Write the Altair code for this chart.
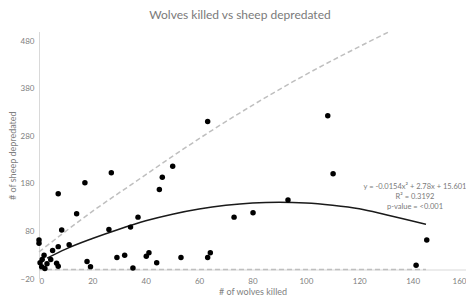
import altair as alt
import pandas as pd

# Observed points (wolves killed, sheep depredated)
wolves = [0, 0, 0.4, 1, 1.2, 1.9, 2.2, 3.0, 4.4, 5.1, 6.6, 7.2, 7.2, 7.2, 8.5, 11.3, 14.1,
          17.2, 18, 19.3, 26.2, 27.1, 29.2, 32.1, 34.3, 35.2, 37.1, 40.2, 41.2, 44.1,
          45.1, 46.2, 50.1, 53.2, 63.2, 64.2, 63.2, 73.1, 80.2, 93.3, 108.2, 110.2,
          141.3, 145.3]
sheep = [62, 55, 14, 6, 21, 30, 2, 12, 21, 40, 13, 7, 48, 159, 83, 52, 117,
         182, 17, 6, 84, 203, 25, 30, 89, 3, 110, 28, 35, 14,
         168, 194, 217, 25, 25, 35, 311, 110, 119, 146, 323, 201,
         9, 62]

# Polynomial trend (as drawn)
trend_x = [3, 10, 20, 30, 40, 50, 60, 70, 80, 90, 100, 110, 120, 130, 145]
trend_y = [23.8, 42.9, 65.0, 84.6, 102.2, 116.1, 127.0, 134.7, 139.5, 141.0, 139.6, 134.8, 127.4, 115.0, 94.9]

# Dashed upper reference curve (as drawn)
ref_x = [0, 20, 35, 65, 95, 131]
ref_y = [37, 122, 180, 293, 394, 499]

# Dashed baseline
base_x = [0, 145]
base_y = [0, 0]

x_ticks = [0, 20, 40, 60, 80, 100, 120, 140, 160]
y_ticks = [-20, 80, 180, 280, 380, 480]

annotation = "y = -0.0154x² + 2.78x + 15.601\nR² = 0.3192\np-value = <0.001"

FONT = "Lato"
GRAY = "#808080"

pts = pd.DataFrame({"w": wolves, "s": sheep})
trend = pd.DataFrame({"w": trend_x, "s": trend_y})
ref = pd.DataFrame({"w": ref_x, "s": ref_y})
base = pd.DataFrame({"w": base_x, "s": base_y})
ann = pd.DataFrame({"t": [annotation]})

xs = alt.Scale(domain=[0, 160], nice=False)
ys = alt.Scale(domain=[-20, 500], nice=False)

x_axis = alt.Axis(values=x_ticks, title="# of wolves killed", grid=False, ticks=False,
                  domainColor="#d9d9d9", offset=-9.5, labelPadding=8, titlePadding=2,
                  labelColor=GRAY, titleColor=GRAY, labelFontSize=8, titleFontSize=9,
                  titleFontWeight="normal", labelFont=FONT, titleFont=FONT)
y_axis = alt.Axis(values=y_ticks, title="# of sheep depredated", grid=False, ticks=False,
                  domainColor="#d9d9d9", labelPadding=5, titlePadding=3,
                  labelColor=GRAY, titleColor=GRAY, labelFontSize=8, titleFontSize=9,
                  titleFontWeight="normal", labelFont=FONT, titleFont=FONT)

ref_line = alt.Chart(ref).mark_line(color="#bfbfbf", strokeDash=[5, 3], strokeWidth=1.5,
                                    interpolate="monotone").encode(
    x=alt.X("w:Q", scale=xs, axis=x_axis),
    y=alt.Y("s:Q", scale=ys, axis=y_axis),
)
base_line = alt.Chart(base).mark_line(color="#bfbfbf", strokeDash=[5, 3], strokeWidth=1.5).encode(
    x=alt.X("w:Q", scale=xs), y=alt.Y("s:Q", scale=ys)
)
trend_line = alt.Chart(trend).mark_line(color="#1a1a1a", strokeWidth=1.5,
                                        interpolate="monotone").encode(
    x=alt.X("w:Q", scale=xs), y=alt.Y("s:Q", scale=ys)
)
points = alt.Chart(pts).mark_circle(color="black", opacity=1, size=30).encode(
    x=alt.X("w:Q", scale=xs), y=alt.Y("s:Q", scale=ys)
)
text = alt.Chart(ann).mark_text(lineBreak="\n", lineHeight=10, fontSize=7.5, font=FONT,
                                color="#7a7a7a", align="center", baseline="middle").encode(
    text="t:N", x=alt.value(376), y=alt.value(155)
)

chart = alt.layer(ref_line, base_line, trend_line, points, text).properties(
    width=427, height=247.5,
    title=alt.TitleParams("Wolves killed vs sheep depredated", fontSize=12, font=FONT,
                          color="#7a7a7a", fontWeight="normal", offset=7, dx=-12.5),
    autosize=alt.AutoSizeParams(type="none"),
    padding={"left": 31, "top": 23.5, "right": 0, "bottom": 20},
).configure_view(stroke=None)

chart.save("out.html", embed_options={"renderer": "svg", "actions": False})
